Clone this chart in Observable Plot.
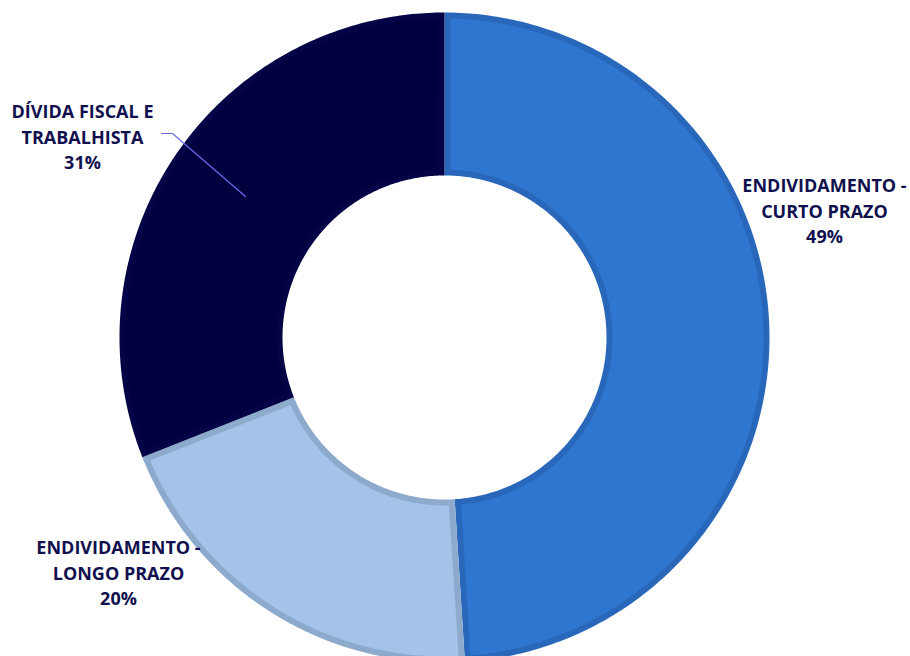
<!DOCTYPE html>
<html>
<head>
<meta charset="utf-8">
<script src="https://cdn.jsdelivr.net/npm/d3@7"></script>
<script src="https://cdn.jsdelivr.net/npm/@observablehq/plot@0.6"></script>
<style>
  html, body { margin: 0; padding: 0; background: #ffffff; }
  #chart { width: 910px; height: 656px; overflow: hidden; }
</style>
</head>
<body>
<div id="chart"></div>
<script>
// ---- data ----
const categories = ["ENDIVIDAMENTO - CURTO PRAZO", "ENDIVIDAMENTO - LONGO PRAZO", "DÍVIDA FISCAL E TRABALHISTA"];
const labelLines = [["ENDIVIDAMENTO -", "CURTO PRAZO"], ["ENDIVIDAMENTO -", "LONGO PRAZO"], ["DÍVIDA FISCAL E", "TRABALHISTA"]];
const shares = [49, 20, 31];

// ---- style / layout ----
const fillColors = ["#2E76D0", "#A4C3E8", "#00003F"];
const borderColors = ["#2967BA", "#8DAACD", "#030346"];
const textColor = "#10104E";
const W = 910, H = 656, CX = 444, CY = 337;
const R_OUT = 325, R_IN = 162, BORDER = 6;
// label anchor positions in pixels (centre of middle line)
const labelPos = [[824, 209], [118, 571], [82, 135]];
const leader = [[161, 133], [172, 133], [245, 196]];

const toData = ([px, py]) => ({x: px - CX, y: CY - py});

// build arc polygons in data units (origin at centre, y up), angle clockwise from top
const total = d3.sum(shares);
function arcPoly(a0, a1, ro, ri, inset) {
  const pts = [];
  const n = Math.max(8, Math.ceil((a1 - a0) * 80));
  const dO = inset / ro, dI = inset / ri;
  const ro2 = ro - inset, ri2 = ri + inset;
  for (let i = 0; i <= n; i++) {
    const t = (a0 + dO) + ((a1 - dO) - (a0 + dO)) * i / n;
    pts.push({x: ro2 * Math.sin(t), y: ro2 * Math.cos(t)});
  }
  for (let i = n; i >= 0; i--) {
    const t = (a0 + dI) + ((a1 - dI) - (a0 + dI)) * i / n;
    pts.push({x: ri2 * Math.sin(t), y: ri2 * Math.cos(t)});
  }
  return pts;
}

let acc = 0;
const marks = [];
shares.forEach((v, i) => {
  const a0 = acc / total * 2 * Math.PI;
  acc += v;
  const a1 = acc / total * 2 * Math.PI;
  marks.push(Plot.line(arcPoly(a0, a1, R_OUT, R_IN, 0), {x: "x", y: "y", fill: borderColors[i], stroke: "none", curve: "linear-closed"}));
  marks.push(Plot.line(arcPoly(a0, a1, R_OUT, R_IN, BORDER), {x: "x", y: "y", fill: fillColors[i], stroke: "none", curve: "linear-closed"}));
});

// leader line
marks.push(Plot.line(leader.map(toData), {x: "x", y: "y", stroke: "#6B6BEE", strokeWidth: 1.2}));

// labels
const labels = categories.map((c, i) => ({
  text: labelLines[i].join("\n") + "\n" + shares[i] + "%",
  ...toData(labelPos[i])
}));
marks.push(Plot.text(labels, {
  x: "x", y: "y", text: "text", fill: textColor,
  fontSize: 18, fontWeight: "bold", fontFamily: "Open Sans, Lato, sans-serif",
  lineHeight: 1.4, textAnchor: "middle", lineAnchor: "middle"
}));

const chart = Plot.plot({
  width: W, height: H,
  margin: 0,
  x: {domain: [-CX, W - CX], axis: null},
  y: {domain: [CY - H, CY], axis: null},
  style: {background: "#ffffff"},
  marks
});
document.getElementById("chart").appendChild(chart);
</script>
</body>
</html>
